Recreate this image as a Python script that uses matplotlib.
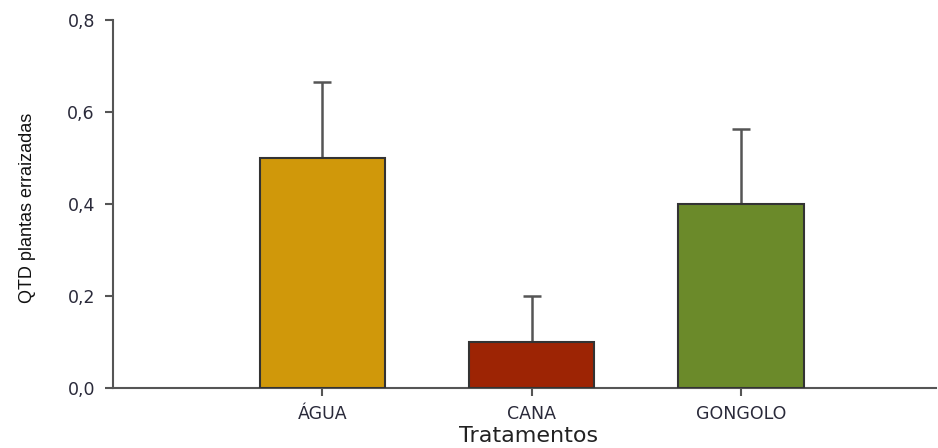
import matplotlib
matplotlib.use("Agg")
import matplotlib.pyplot as plt

# === Data ===
tratamentos = ["ÁGUA", "CANA", "GONGOLO"]
medias = [0.5, 0.1, 0.4]
erros = [0.165, 0.1, 0.163]
cores = ["#D0980A", "#9D2404", "#6B8A2A"]
yticks = [0.0, 0.2, 0.4, 0.6, 0.8]
ytick_labels = ["0,0", "0,2", "0,4", "0,6", "0,8"]

plt.rcParams["font.family"] = ["DejaVu Sans"]

# === Plotting ===
fig = plt.figure(figsize=(9.38, 4.48), dpi=100)
ax = fig.add_axes([0.1205, 0.134, 0.877, 0.8215])

x = range(len(tratamentos))
ax.bar(x, medias, width=0.6, color=cores, edgecolor="#333333", linewidth=1.5, zorder=3)
ax.errorbar(x, medias, yerr=[[0] * len(erros), erros], fmt="none",
            ecolor="#555555", elinewidth=1.8, capsize=6.5, capthick=1.8, zorder=2)

ax.set_xlim(-1.0, 2.93)
ax.set_ylim(0, 0.8)
ax.set_yticks(yticks)
ax.set_yticklabels(ytick_labels)
ax.set_xticks(list(x))
ax.set_xticklabels(tratamentos)

for side in ["top", "right"]:
    ax.spines[side].set_visible(False)
for side in ["left", "bottom"]:
    ax.spines[side].set_color("#555555")
    ax.spines[side].set_linewidth(1.5)

ax.tick_params(axis="both", direction="out", length=6, width=1.5, color="#555555",
               labelcolor="#2a2a3a", labelsize=12.5)
ax.tick_params(axis="y", pad=7)
ax.tick_params(axis="x", pad=6)

ax.set_ylabel("QTD plantas erraizadas", family=["Liberation Sans", "DejaVu Sans"],
              fontsize=13, color="#111111", va="center")
ax.yaxis.set_label_coords(-0.104, 0.49)
ax.set_xlabel("Tratamentos", fontsize=16, color="#222222", va="center")
ax.xaxis.set_label_coords(0.505, -0.13)

fig.savefig("out.png", dpi=100)
